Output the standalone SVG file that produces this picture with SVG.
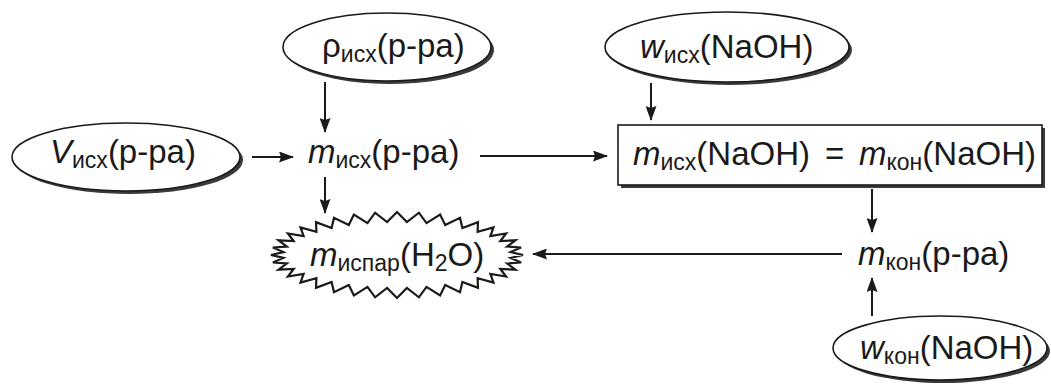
<svg xmlns="http://www.w3.org/2000/svg" width="1051" height="385" viewBox="0 0 1051 385">
  <style>
    .bg { fill: #ffffff; }
    .shadow { fill: #3a3a3a; }
    .shape { fill: #ffffff; stroke: #1a1a1a; stroke-width: 1.6; }
    .burst { fill: #ffffff; stroke: #1a1a1a; stroke-width: 2.2; stroke-linejoin: miter; }
    .lbl { font-family: "Liberation Sans", Arial, sans-serif; font-size: 33px; fill: #1a1a1a; }
    .it { font-style: italic; }
    .sub { font-size: 23px; }
    .arrow { fill: none; stroke: #1a1a1a; stroke-width: 2; marker-end: url(#head); }
  </style>
  <defs>
    <marker id="head" markerUnits="userSpaceOnUse" markerWidth="15" markerHeight="11" viewBox="0 0 15 11" refX="14" refY="5.5" orient="auto">
      <path d="M0,0 L15,5.5 L0,11 L2,5.5 z" fill="#1a1a1a"/>
    </marker>
  </defs>

  <rect class="bg" x="0" y="0" width="1051" height="385"/>

  <!-- connectors -->
  <g id="connectors">
    <path class="arrow" d="M252,157 L293,157"/>
    <path class="arrow" d="M325,82 L325,132"/>
    <path class="arrow" d="M325,177 L325,213"/>
    <path class="arrow" d="M480,156 L607,156"/>
    <path class="arrow" d="M651,83 L651,120"/>
    <path class="arrow" d="M872,189 L872,232"/>
    <path class="arrow" d="M872,316 L872,278"/>
    <path class="arrow" d="M842,254 L533,254"/>
  </g>

  <!-- V initial solution volume -->
  <g id="node-v-ish">
    <ellipse class="shadow" cx="129" cy="160" rx="114" ry="34"/>
    <ellipse class="shape" cx="126" cy="157" rx="114" ry="34"/>
    <text class="lbl" x="50" y="163"><tspan class="it">V</tspan><tspan class="sub" dy="5">исх</tspan><tspan dy="-5">(р-ра)</tspan></text>
  </g>

  <!-- rho initial solution density -->
  <g id="node-rho-ish">
    <ellipse class="shadow" cx="390" cy="50" rx="104" ry="34"/>
    <ellipse class="shape" cx="387" cy="47" rx="104" ry="34"/>
    <text class="lbl" x="322" y="57">ρ<tspan class="sub" dy="5">исх</tspan><tspan dy="-5">(р-ра)</tspan></text>
  </g>

  <!-- w initial NaOH fraction -->
  <g id="node-w-ish">
    <ellipse class="shadow" cx="730" cy="50" rx="122" ry="35"/>
    <ellipse class="shape" cx="727" cy="47" rx="122" ry="35"/>
    <text class="lbl" x="640" y="58"><tspan class="it">w</tspan><tspan class="sub" dy="5">исх</tspan><tspan dy="-5">(NaOH)</tspan></text>
  </g>

  <!-- m initial solution mass -->
  <g id="node-m-ish">
    <text class="lbl" x="308" y="163"><tspan class="it">m</tspan><tspan class="sub" dy="5">исх</tspan><tspan dy="-5">(р-ра)</tspan></text>
  </g>

  <!-- NaOH mass is conserved -->
  <g id="node-naoh-balance">
    <rect class="shadow" x="621" y="128" width="424" height="60"/>
    <rect class="shape" x="618" y="125" width="424" height="60"/>
    <text class="lbl" x="633" y="165"><tspan class="it">m</tspan><tspan class="sub" dy="5">исх</tspan><tspan dy="-5">(NaOH)</tspan></text>
    <text class="lbl" x="825" y="165">=</text>
    <text class="lbl" x="859" y="165"><tspan class="it">m</tspan><tspan class="sub" dy="5">кон</tspan><tspan dy="-5">(NaOH)</tspan></text>
  </g>

  <!-- evaporated water -->
  <g id="node-m-evap">
    <path class="burst" d="M523,255 L510.6,252.1 L521.1,247.5 L507.1,246.5 L515.4,240.3 L500.3,241.1 L506.1,233.5 L490.4,236.1 L493.5,227.4 L477.6,231.7 L478,222.1 L462.4,228 L460,217.8 L445.2,225.1 L440.1,214.6 L426.5,223.1 L418.9,212.7 L406.9,222.1 L397,212 L387.1,222.1 L375.1,212.7 L367.5,223.1 L353.9,214.6 L348.8,225.1 L334,217.8 L331.6,228 L316,222.1 L316.4,231.7 L300.5,227.4 L303.6,236.1 L287.9,233.5 L293.7,241.1 L278.6,240.3 L286.9,246.5 L272.9,247.5 L283.4,252.1 L271,255 L283.4,257.9 L272.9,262.5 L286.9,263.5 L278.6,269.7 L293.7,268.9 L287.9,276.5 L303.6,273.9 L300.5,282.6 L316.4,278.3 L316,287.9 L331.6,282 L334,292.2 L348.8,284.9 L353.9,295.4 L367.5,286.9 L375.1,297.3 L387.1,287.9 L397,298 L406.9,287.9 L418.9,297.3 L426.5,286.9 L440.1,295.4 L445.2,284.9 L460,292.2 L462.4,282 L478,287.9 L477.6,278.3 L493.5,282.6 L490.4,273.9 L506.1,276.5 L500.3,268.9 L515.4,269.7 L507.1,263.5 L521.1,262.5 L510.6,257.9 Z"/>
    <text class="lbl" x="310" y="266"><tspan class="it">m</tspan><tspan class="sub" dy="5">испар</tspan><tspan dy="-5">(H</tspan><tspan class="sub" dy="5">2</tspan><tspan dy="-5">O)</tspan></text>
  </g>

  <!-- m final solution mass -->
  <g id="node-m-kon">
    <text class="lbl" x="858" y="265"><tspan class="it">m</tspan><tspan class="sub" dy="5">кон</tspan><tspan dy="-5">(р-ра)</tspan></text>
  </g>

  <!-- w final NaOH fraction -->
  <g id="node-w-kon">
    <ellipse class="shadow" cx="943" cy="351" rx="107" ry="32"/>
    <ellipse class="shape" cx="940" cy="348" rx="107" ry="32"/>
    <text class="lbl" x="860" y="359"><tspan class="it">w</tspan><tspan class="sub" dy="5">кон</tspan><tspan dy="-5">(NaOH)</tspan></text>
  </g>
</svg>
